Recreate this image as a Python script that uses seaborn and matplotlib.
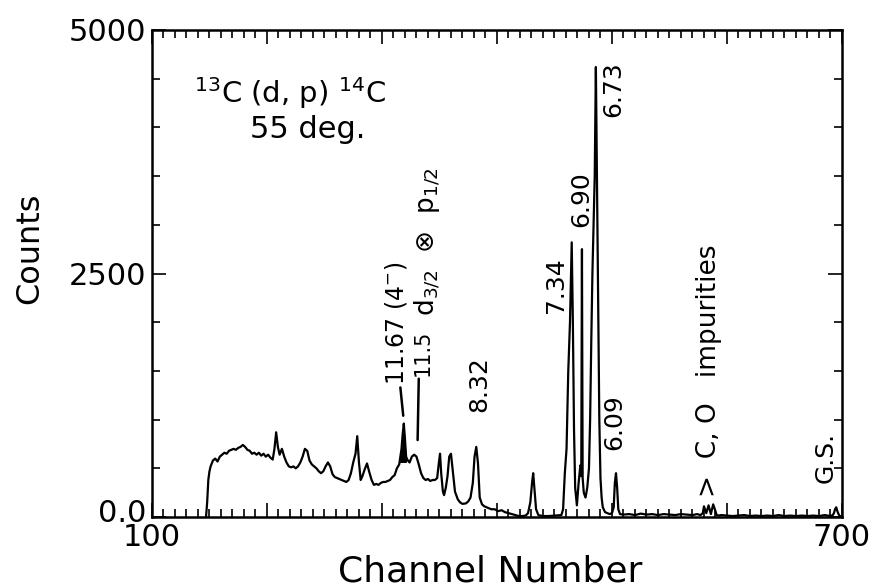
import numpy as np
import pandas as pd
import matplotlib
matplotlib.use("Agg")
import matplotlib.pyplot as plt
import matplotlib.transforms as mtransforms
import seaborn as sns

# ---------------- data ----------------
channel = [
    147, 148, 149, 150, 151, 153, 155, 157, 159, 161, 163, 165, 167, 169, 171, 173, 175,
    177, 179, 181, 183, 185, 187, 189, 191, 193, 195, 197, 199, 201, 203, 205, 206.5,
    208, 209.5, 211, 213, 215, 217, 219, 221, 223, 225, 227, 229, 231, 233, 235, 237,
    239, 241, 243, 245, 247, 249, 251, 253, 255, 257, 259, 261, 263, 265, 267, 269,
    271, 273, 275, 277, 278.5, 280, 281.5, 283, 285, 287, 289, 291, 293, 295, 297, 299,
    301, 303, 305, 307, 309, 311, 313, 315, 316, 317, 318, 319, 320, 321, 322, 324,
    326, 328, 330, 332, 334, 336, 338, 340, 342, 344, 346, 348, 349.5, 350.5, 351.5,
    353, 354, 355.5, 357, 358.5, 360, 361.5, 363.5, 366, 368, 370, 373, 375, 377, 379,
    380.5, 382, 383.5, 385, 387, 389, 391, 393, 395, 398, 401, 404, 407, 410, 413,
    416, 419, 422, 425, 427, 429, 430.5, 431.5, 432.5, 434, 436, 440, 445, 450, 454,
    456, 457.5, 459, 460.5, 462, 463.5, 465, 466, 467, 468, 469.5, 471, 472.5, 473.3,
    473.9, 474.5, 475.5, 477, 478.5, 480, 481, 482, 483, 484, 485, 486, 487, 488, 489,
    490, 491, 492, 494, 496, 498, 500, 501.5, 502.5, 503.5, 504.5, 505.5, 507, 510,
    515, 520, 525, 530, 535, 540, 545, 550, 555, 560, 565, 570, 574, 577, 579, 580,
    582, 584, 586, 588, 590, 591, 593, 595, 600, 605, 610, 615, 620, 625, 630,
    635, 640, 645, 650, 655, 660, 665, 670, 675, 680, 685, 690, 692, 693, 694, 695,
    696, 697, 698, 700,
]
counts = [
    0, 150, 380, 470, 520, 580, 600, 570, 620, 640, 660, 650, 680, 690, 700, 690, 710,
    720, 740, 720, 690, 680, 650, 660, 640, 660, 630, 650, 620, 640, 610, 590, 700,
    870, 720, 640, 700, 620, 560, 520, 510, 520, 500, 520, 560, 620, 700, 680, 580,
    540, 520, 500, 470, 450, 470, 520, 560, 520, 440, 410, 400, 390, 380, 370, 360,
    380, 450, 560, 650, 830, 560, 380, 420, 490, 550, 460, 380, 330, 340, 330, 350,
    360, 360, 370, 380, 410, 430, 500, 540, 620, 700, 850, 960, 800, 620, 590, 560,
    620, 640, 620, 540, 450, 400, 380, 390, 370, 380, 380, 400, 560, 650, 450,
    260, 225, 300, 420, 620, 650, 480, 260, 180, 150, 135, 140, 160, 200, 350,
    620, 720, 550, 200, 130, 110, 100, 90, 80, 80, 60, 70, 50, 40, 30,
    20, 10, 10, 15, 40, 150, 350, 450, 300, 80, 20, 10, 10, 15, 20,
    20, 80, 450, 700, 1500, 2000, 2820, 2000, 900, 300, 120, 350, 530, 420,
    2750, 400, 250, 200, 300, 500, 1000, 1800, 2500, 3000, 3500, 4620, 3400, 2200, 1000,
    400, 200, 100, 50, 40, 30, 40, 100, 350, 450, 300, 80, 30, 25,
    30, 20, 35, 25, 30, 20, 30, 25, 20, 30, 25, 20, 30, 20, 40, 110,
    40, 120, 30, 130, 60, 20, 15, 20, 15, 10, 15, 20, 10, 15, 10,
    15, 10, 20, 10, 15, 10, 15, 10, 15, 10, 20, 10, 20, 40, 80, 100,
    60, 30, 10, 5,
]

xlim = [100, 700]
ylim = [0, 5000]
xtick_major = [100, 200, 300, 400, 500, 600, 700]
xtick_labels = ["100", "", "", "", "", "", "700"]
ytick_major = [0, 2500, 5000]
ytick_labels = ["0.0", "2500", "5000"]

# labels: (channel, counts at bottom of text, text, fontsize)
peak_labels = [
    (312.5, 1360, r"11.67 (4$^{-}$)", 17),
    (335.5, 1450, "11.5", 15),
    (339.5, 2060, r"d$_{3/2}$  $\otimes$  p$_{1/2}$", 19),
    (385.0, 1080, "8.32", 18),
    (451.5, 2095, "7.34", 18),
    (473.5, 2980, "6.90", 18),
    (501.0, 4110, "6.73", 18),
    (502.0, 690, "6.09", 18),
    (584.0, 205, ">  C, O   impurities", 19),
    (686.0, 350, "G.S.", 18),
]
leader_lines = [
    ([316.0, 318.5], [1330, 1040]),
    ([332.0, 331.0], [1420, 790]),
]

df = pd.DataFrame({"Channel Number": channel, "Counts": counts})

# ---------------- figure ----------------
sns.set_theme(style="ticks")
plt.rcParams["font.family"] = ["DejaVu Sans"]
plt.rcParams["mathtext.fontset"] = "dejavusans"
plt.rcParams["text.color"] = "black"
plt.rcParams["axes.labelcolor"] = "black"

fig = plt.figure(figsize=(8.96, 5.88), dpi=100)
ax = fig.add_axes([0.1696, 0.1207, 0.7701, 0.8283])

sns.lineplot(data=df, x="Channel Number", y="Counts", ax=ax, color="black",
             linewidth=1.6, estimator=None, sort=False)

xs = np.array(channel)
ys = np.array(counts)
ax.fill_between(xs, ys, 560, where=(xs >= 315) & (xs <= 321.5), color="black",
                interpolate=True, linewidth=0)

ax.set_xlim(*xlim)
ax.set_ylim(*ylim)

ax.set_xticks(xtick_major)
ax.set_xticklabels(xtick_labels)
ax.set_xticks(np.arange(xlim[0], xlim[1] + 1, 10), minor=True)
ax.set_yticks(ytick_major)
ax.set_yticklabels(ytick_labels)
ax.set_yticks(np.arange(ylim[0], ylim[1] + 1, 500), minor=True)

for s in ax.spines.values():
    s.set_visible(True)
    s.set_linewidth(1.8)
    s.set_color("black")

ax.tick_params(which="both", direction="in", top=True, right=True, color="black",
               width=1.2, labelsize=22, labelcolor="black")
ax.tick_params(which="major", length=10, pad=4)
ax.tick_params(which="minor", length=6)

# lift the "0.0" label a little, as in the original
lbl0 = ax.get_yticklabels()[0]
lbl0.set_transform(lbl0.get_transform() +
                   mtransforms.ScaledTranslation(0, 7 / 100, fig.dpi_scale_trans))

ax.set_xlabel("Channel Number", fontsize=26, color="black")
ax.set_ylabel("Counts", fontsize=23, color="black")
ax.xaxis.set_label_coords(0.49, -0.076)
ax.yaxis.set_label_coords(-0.155, 0.552)

ax.text(0.2, 0.87, r"$^{13}$C (d, p) $^{14}$C", transform=ax.transAxes,
        fontsize=21, ha="center", va="center", color="black")
ax.text(0.225, 0.795, "55 deg.", transform=ax.transAxes,
        fontsize=22, ha="center", va="center", color="black")

for cx, cy, txt, fs in peak_labels:
    ax.text(cx, cy, txt, rotation=90, ha="center", va="bottom", fontsize=fs,
            color="black")

for lx, ly in leader_lines:
    ax.plot(lx, ly, color="black", linewidth=1.8)

fig.savefig("out.png", dpi=100, facecolor="white")
